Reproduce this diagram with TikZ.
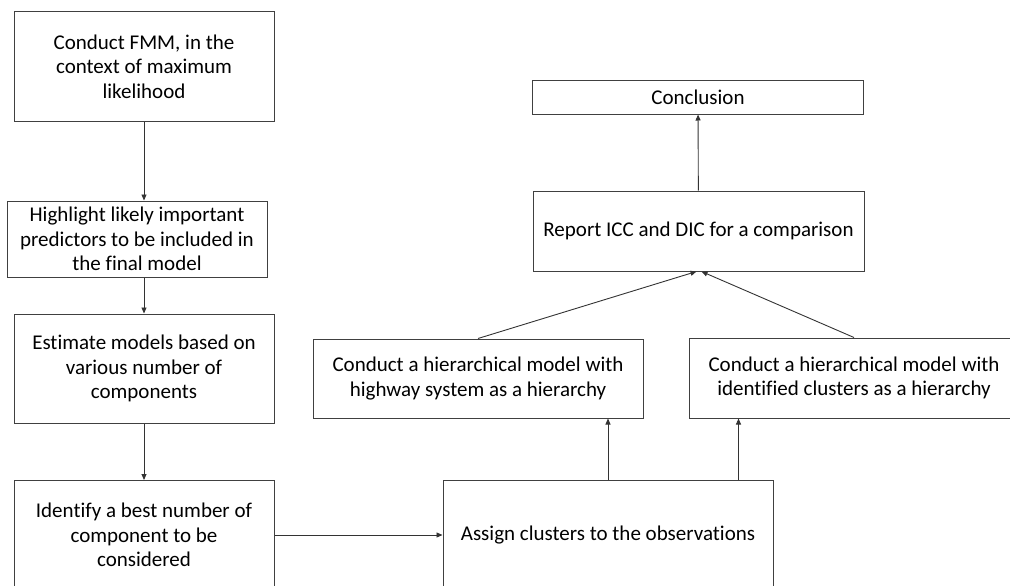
\documentclass[tikz,border=0pt]{standalone}
\usepackage{fontspec}
\setmainfont{Carlito}[Ligatures=NoCommon]
\usetikzlibrary{arrows.meta,shapes}
\tikzstyle{stagebox}=[draw=black!75,line width=1pt,align=center,inner sep=0pt,font=\fontsize{21}{24.5}\selectfont]
\tikzstyle{edge} = [draw,black!80,line width=0.9pt,-{Triangle[length=6pt,width=5pt]}]

\begin{document}
\begin{tikzpicture}[x=1pt,y=-1pt]
    \useasboundingbox (0,0) rectangle (1010,586);
    % First we draw the boxes of the flow chart
    \foreach \pos/\name/\w/\h/\txt in {
        {(144,66.5)/fmm/260/109/{Conduct FMM, in the\\context of maximum\\likelihood}},
        {(137,239)/highlight/260/76/{Highlight likely important\\predictors to be included in\\the final model}},
        {(144,368.5)/estimate/260/109/{Estimate models based on\\various number of\\components}},
        {(144,535)/identify/260/109/{Identify a best number of\\component to be\\considered}},
        {(608,535)/assign/330/110/{Assign clusters to the observations}},
        {(478,378.5)/highway/330/79/{Conduct a hierarchical model with\\highway system as a hierarchy}},
        {(854,378)/clusters/330/80/{Conduct a hierarchical model with\\identified clusters as a hierarchy}},
        {(698.5,231)/report/331/80/{Report ICC and DIC for a comparison}},
        {(698,97.5)/conclusion/331/33/{Conclusion}}}
        \node[stagebox, minimum width=\w pt, minimum height=\h pt] (\name) at \pos {\txt};
    % Connect the boxes with arrows
    \foreach \source/\dest in {estimate/identify, identify/assign, report/conclusion}
        \path[edge] (\source) -- (\dest);
    \path[edge] (fmm.south) -- (fmm.south |- highlight.north);
    \path[edge] (estimate.north |- highlight.south) -- (estimate.north);
    \path[edge] (assign.north) -- (assign.north |- highway.south);
    \path[edge] ([xshift=-35pt]assign.north east) -- ([xshift=-35pt]assign.north east |- clusters.south);
    \path[edge] (highway.north) -- ([xshift=-2pt]report.south);
    \path[edge] (clusters.north) -- ([xshift=3pt]report.south);
\end{tikzpicture}
\end{document}
